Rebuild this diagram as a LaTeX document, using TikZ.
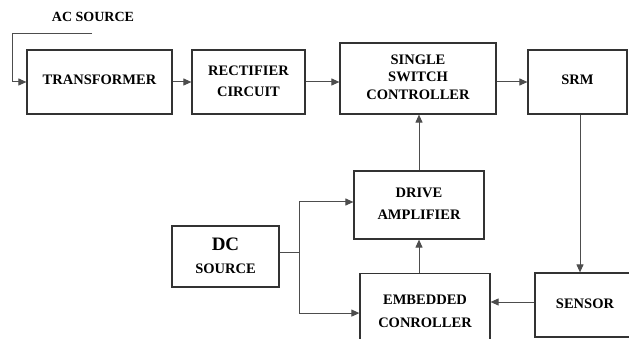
\documentclass[tikz,border=0pt]{standalone}
\usepackage{fontspec}
\setmainfont{Liberation Serif}
\usetikzlibrary{arrows.meta}
\definecolor{boxline}{HTML}{333333}
\definecolor{wire}{HTML}{4d4d4d}
\tikzset{
  block/.style={draw=boxline, line width=1.2pt, align=center, inner sep=0pt,
    font=\bfseries\fontsize{14.5}{21}\selectfont},
  wirearrow/.style={draw=wire, line width=1pt, -{Triangle[length=8pt,width=7pt]}},
  wireline/.style={draw=wire, line width=1pt},
}
\begin{document}
\begin{tikzpicture}[x=1pt, y=-1pt]
  \useasboundingbox (0,0) rectangle (629,339);
  % top row
  \node[block, minimum width=145pt, minimum height=64pt] (trans) at (99.5,82) {\raisebox{5pt}{TRANSFORMER}};
  \node[block, minimum width=113pt, minimum height=64pt] (rect) at (248.5,82) {\raisebox{1.5pt}{RECTIFIER}\\\raisebox{1.5pt}{CIRCUIT}};
  \node[block, minimum width=156pt, minimum height=71pt, font=\bfseries\fontsize{14.5}{17.5}\selectfont] (single) at (418,78.5) {\raisebox{3pt}{SINGLE}\\\raisebox{3pt}{SWITCH}\\\raisebox{3pt}{CONTROLLER}};
  \node[block, minimum width=99pt, minimum height=64pt] (srm) at (577.5,82) {\raisebox{5pt}{SRM}};
  % lower blocks
  \node[block, minimum width=130pt, minimum height=68pt, font=\bfseries\fontsize{14.5}{22}\selectfont] (drive) at (419,205) {\raisebox{2pt}{DRIVE}\\\raisebox{2pt}{AMPLIFIER}};
  \node[block, minimum width=107pt, minimum height=61pt, font=\bfseries\fontsize{14.5}{23}\selectfont] (dc) at (225.5,256.5)
    {\raisebox{2pt}{\fontsize{19}{19}\selectfont DC}\\\raisebox{2pt}{SOURCE}};
  \node[block, minimum width=130pt, minimum height=76pt, anchor=north, font=\bfseries\fontsize{14.5}{23}\selectfont] (emb) at (425,273) {\raisebox{1.5pt}{EMBEDDED}\\\raisebox{1.5pt}{CONROLLER}};
  \node[block, minimum width=100pt, minimum height=64pt] (sensor) at (585,305) {\raisebox{3pt}{SENSOR}};
  % AC supply
  \node[font=\bfseries\fontsize{14}{16}\selectfont] (ac) at (93,17) {AC SOURCE};
  \coordinate (acA) at (92,34);
  \coordinate (acB) at (12,34);
  \draw[wirearrow] (acA) -- (acB) |- (trans.west);
  % power path
  \draw[wirearrow] (trans.east) -- (rect.west);
  \draw[wirearrow] (rect.east) -- (rect.east -| single.west);
  \draw[wirearrow] (srm.west -| single.east) -- (srm.west);
  \draw[wirearrow] ([xshift=2.5pt]srm.south) -- ([xshift=-5pt]sensor.north);
  \draw[wirearrow] ([yshift=3pt]sensor.west) -- ([yshift=3pt]sensor.west -| emb.east);
  % control path
  \draw[wirearrow] (drive.south |- emb.north) -- (drive.south);
  \draw[wirearrow] (drive.north) -- (drive.north |- single.south);
  % DC supply branches
  \draw[wireline] ([yshift=4pt]dc.east) -- ++(20,0) coordinate (junc);
  \draw[wirearrow] (junc) |- ([yshift=3pt]drive.west);
  \draw[wirearrow] (junc) |- ([yshift=-1.5pt]emb.west |- emb.center);
\end{tikzpicture}
\end{document}
